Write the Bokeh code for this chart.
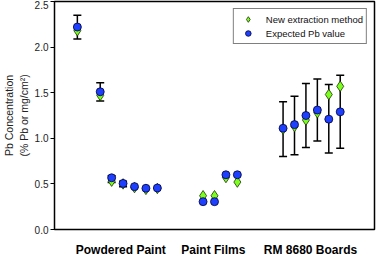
from bokeh.plotting import figure
from bokeh.models import ColumnDataSource, Whisker, TeeHead, FixedTicker, Range1d
from bokeh.embed import file_html
from bokeh.resources import INLINE

# ---- data ----
sample_pos = [1, 3, 4, 5, 6, 7, 8, 12, 13, 14, 15, 19, 20, 21, 22, 23, 24]
new_method = [2.18, 1.47, 0.53, 0.50, 0.46, 0.44, 0.45,
              0.37, 0.37, 0.57, 0.52,
              1.10, 1.13, 1.20, 1.28, 1.48, 1.57]
expected = [2.22, 1.51, 0.567, 0.505, 0.47, 0.452, 0.455,
            0.305, 0.305, 0.60, 0.60,
            1.11, 1.15, 1.25, 1.31, 1.21, 1.29]

err_pos = [1, 3, 4, 5, 19, 20, 21, 22, 23, 24]
err_upper = [2.35, 1.61, 0.59, 0.53, 1.40, 1.46, 1.60, 1.65, 1.59, 1.69]
err_lower = [2.09, 1.41, 0.515, 0.47, 0.80, 0.82, 0.90, 0.97, 0.84, 0.89]

group_names = ["Powdered Paint", "Paint Films", "RM 8680 Boards"]
group_centers = [4.8, 12.9, 21.4]
y_ticks = [0.0, 0.5, 1.0, 1.5, 2.0, 2.5]

FONT = "Liberation Sans"

p = figure(width=376, height=259, output_backend="svg", toolbar_location=None,
           x_range=Range1d(-1, 27), y_range=Range1d(0, 2.5),
           min_border_left=40, min_border_right=2, min_border_top=1, min_border_bottom=27)

p.xgrid.visible = False
p.ygrid.visible = False
p.outline_line_color = "black"
p.outline_line_width = 1.5
p.background_fill_color = "white"

pts = ColumnDataSource(dict(x=sample_pos, new=new_method, exp=expected))
errs = ColumnDataSource(dict(x=err_pos, upper=err_upper, lower=err_lower))

w = Whisker(source=errs, base="x", upper="upper", lower="lower",
            line_color="black", line_width=1.5,
            upper_head=TeeHead(size=8, line_color="black", line_width=1.5),
            lower_head=TeeHead(size=8, line_color="black", line_width=1.5))
p.add_layout(w)

p.scatter("x", "new", source=pts, marker="diamond", size=10.5,
          fill_color="#7cff1e", line_color="#1a3300", line_width=0.8,
          legend_label="New extraction method")
p.scatter("x", "exp", source=pts, marker="circle", size=8,
          fill_color="#1f3fff", line_color="#000033", line_width=0.8,
          legend_label="Expected Pb value")

# y axis
p.yaxis.ticker = FixedTicker(ticks=y_ticks)
p.yaxis.major_label_overrides = {t: f"{t:.1f}" for t in y_ticks}
p.yaxis.minor_tick_line_color = None
p.yaxis.major_tick_in = 0
p.yaxis.major_tick_out = 4
p.yaxis.major_label_text_font = FONT
p.yaxis.major_label_text_font_size = "10px"
p.yaxis.major_label_text_color = "#222222"
p.yaxis.major_label_standoff = 2
p.yaxis.axis_label = "Pb Concentration\n(% Pb or mg/cm²)"
p.yaxis.axis_label_text_font = FONT
p.yaxis.axis_label_text_font_size = "10.5px"
p.yaxis.axis_label_text_font_style = "normal"
p.yaxis.axis_label_text_color = "#222222"
p.yaxis.axis_label_standoff = 2
p.yaxis.axis_line_color = "black"

# x axis with group labels
p.xaxis.ticker = FixedTicker(ticks=group_centers)
p.xaxis.major_label_overrides = dict(zip(group_centers, group_names))
p.xaxis.major_tick_in = 0
p.xaxis.major_tick_out = 0
p.xaxis.minor_tick_line_color = None
p.xaxis.major_label_standoff = 13
p.xaxis.major_label_text_font = FONT
p.xaxis.major_label_text_font_size = "12px"
p.xaxis.major_label_text_font_style = "bold"
p.xaxis.major_label_text_color = "black"
p.xaxis.axis_line_color = "black"

# legend
lg = p.legend[0]
lg.location = "top_right"
lg.border_line_color = "black"
lg.border_line_width = 1
lg.background_fill_color = "white"
lg.background_fill_alpha = 1
lg.label_text_font = FONT
lg.label_text_font_size = "9.5px"
lg.label_text_color = "#111111"
lg.glyph_width = 22
lg.glyph_height = 14
lg.label_height = 14
lg.label_standoff = 7
lg.spacing = -3
lg.padding = 3
lg.margin = 7

open("out.html", "w").write(file_html(p, INLINE))
